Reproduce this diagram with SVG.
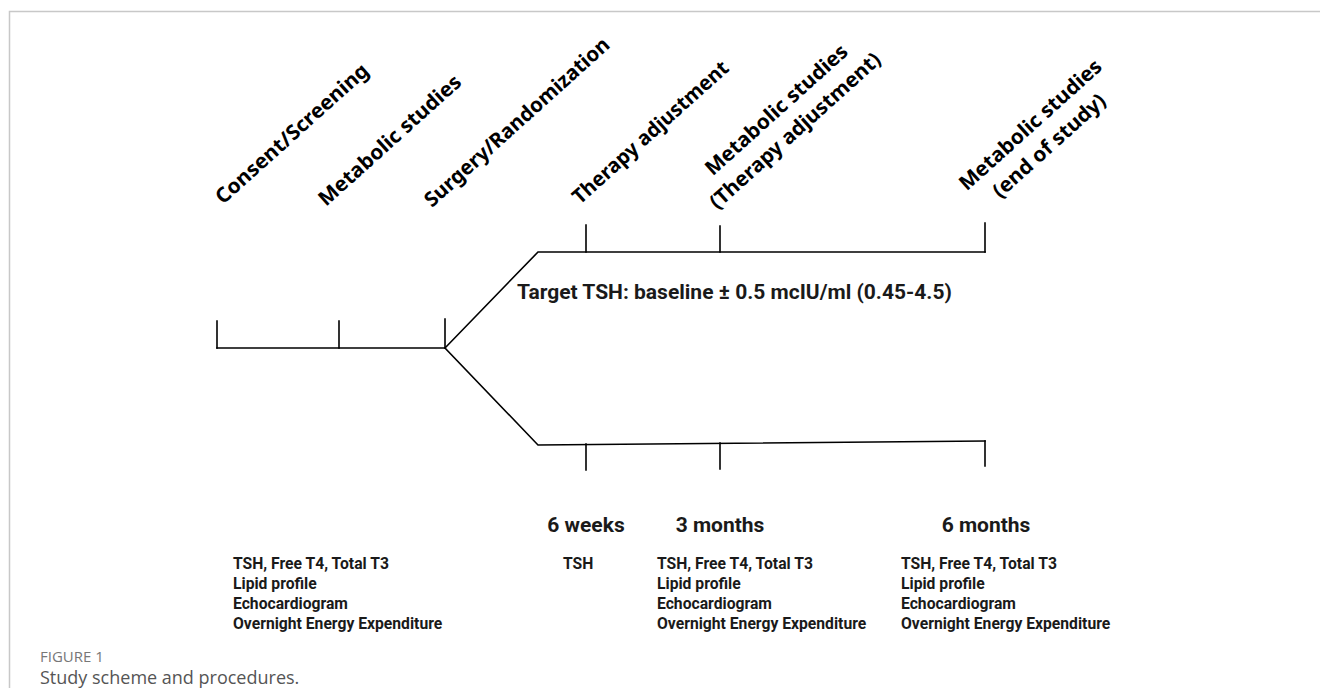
<svg xmlns="http://www.w3.org/2000/svg" width="1320" height="688" viewBox="0 0 1320 688">
<style>
.frame{stroke:#c8c8c8;stroke-width:1.5;fill:none}
.ln{stroke:#000;stroke-width:1.6;fill:none;stroke-linecap:square}
.rot{font-family:"Noto Sans","DejaVu Sans",sans-serif;font-weight:700;font-size:20.5px;fill:#000}
.lbl{font-family:Roboto,"Liberation Sans",sans-serif;font-weight:700;font-size:21px;fill:#1a1a1a}
.lst{font-family:Roboto,"Liberation Sans",sans-serif;font-weight:700;font-size:15.7px;fill:#1a1a1a}
.cap1{font-family:"Open Sans","Liberation Sans",sans-serif;font-size:15px;fill:#777}
.cap2{font-family:"Open Sans","Liberation Sans",sans-serif;font-size:18px;fill:#555}
</style>
<rect width="1320" height="688" fill="#fff"/>
<path class="frame" d="M9.5,688 V11.5 H1320"/>
<g id="connectors">
<path class="ln" d="M217,348 H445 L538,252 H985"/>
<path class="ln" d="M445,348 L538,445 L985,441"/>
<path class="ln" d="M217,321 V348 M339,321 V348 M445,319 V348"/>
<path class="ln" d="M586,225 V252 M720,226 V252 M985,223 V252"/>
<path class="ln" d="M586,444 V470 M720,443 V469 M985,441 V466"/>
</g>
<g id="consent"><text class="rot" transform="translate(223,205) rotate(-42)" textLength="198" lengthAdjust="spacingAndGlyphs">Consent/Screening</text></g>
<g id="metabolic1"><text class="rot" transform="translate(326,207) rotate(-42)" textLength="184" lengthAdjust="spacingAndGlyphs">Metabolic studies</text></g>
<g id="surgery"><text class="rot" transform="translate(432,208) rotate(-42)" textLength="241" lengthAdjust="spacingAndGlyphs">Surgery/Randomization</text></g>
<g id="therapy"><text class="rot" transform="translate(580,205) rotate(-42)" textLength="202" lengthAdjust="spacingAndGlyphs">Therapy adjustment</text></g>
<g id="metabolic2"><text class="rot" text-anchor="middle" transform="translate(781,115) rotate(-42)"><tspan x="0" y="0" textLength="184" lengthAdjust="spacingAndGlyphs">Metabolic studies</tspan><tspan x="0" y="28" textLength="222" lengthAdjust="spacingAndGlyphs">(Therapy adjustment)</tspan></text></g>
<g id="metabolic3"><text class="rot" text-anchor="middle" transform="translate(1035,130) rotate(-42)"><tspan x="0" y="0" textLength="184" lengthAdjust="spacingAndGlyphs">Metabolic studies</tspan><tspan x="0" y="28" textLength="144" lengthAdjust="spacingAndGlyphs">(end of study)</tspan></text></g>
<g id="target"><text class="lbl" x="517" y="299">Target TSH: baseline ± 0.5 mcIU/ml (0.45-4.5)</text></g>
<g id="w6"><text class="lbl" x="586" y="532" text-anchor="middle">6 weeks</text><text class="lst" x="563" y="569">TSH</text></g>
<g id="m3"><text class="lbl" x="720" y="532" text-anchor="middle">3 months</text></g>
<g id="m6"><text class="lbl" x="986" y="532" text-anchor="middle">6 months</text></g>
<g id="list1" class="lst"><text x="233" y="569">TSH, Free T4, Total T3</text><text x="233" y="589">Lipid profile</text><text x="233" y="609">Echocardiogram</text><text x="233" y="629">Overnight Energy Expenditure</text></g>
<g id="list2" class="lst"><text x="657" y="569">TSH, Free T4, Total T3</text><text x="657" y="589">Lipid profile</text><text x="657" y="609">Echocardiogram</text><text x="657" y="629">Overnight Energy Expenditure</text></g>
<g id="list3" class="lst"><text x="901" y="569">TSH, Free T4, Total T3</text><text x="901" y="589">Lipid profile</text><text x="901" y="609">Echocardiogram</text><text x="901" y="629">Overnight Energy Expenditure</text></g>
<g id="caption"><text class="cap1" x="40" y="662">FIGURE 1</text><text class="cap2" x="40" y="684">Study scheme and procedures.</text></g>
</svg>
